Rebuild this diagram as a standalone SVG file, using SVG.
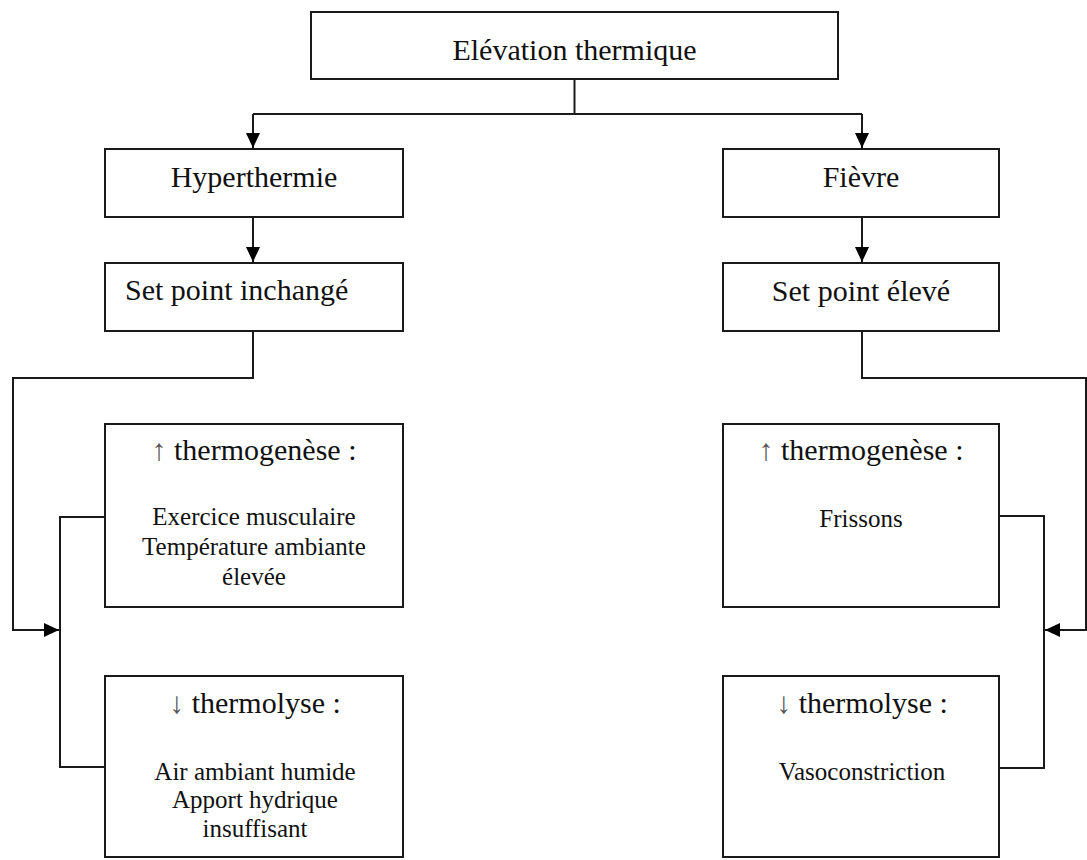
<svg xmlns="http://www.w3.org/2000/svg" width="1087" height="860" viewBox="0 0 1087 860">
<style>
.box{fill:#fff;stroke:#1a1a1a;stroke-width:2}
.ln{fill:none;stroke:#1a1a1a;stroke-width:2}
</style>
<defs>
<marker id="ah" markerUnits="userSpaceOnUse" markerWidth="16" markerHeight="16" refX="15" refY="8" orient="auto">
<path d="M0,1 L15,8 L0,15 Z" fill="#000"/>
</marker>
</defs>
<rect width="1087" height="860" fill="#fff"/>
<g id="connectors">
<path class="ln" d="M574.5 79 V114"/>
<path class="ln" d="M253 114 H862"/>
<path class="ln" d="M253 114 V148" marker-end="url(#ah)"/>
<path class="ln" d="M862 114 V148" marker-end="url(#ah)"/>
<path class="ln" d="M253 217 V262" marker-end="url(#ah)"/>
<path class="ln" d="M862 217 V262" marker-end="url(#ah)"/>
<path class="ln" d="M253 331 V378 H13 V630 H59" marker-end="url(#ah)"/>
<path class="ln" d="M105 517 H60 V767 H105"/>
<path class="ln" d="M862 331 V378 H1086 V630 H1045" marker-end="url(#ah)"/>
<path class="ln" d="M999 516 H1044 V768 H999"/>
</g>
<g id="elevation">
<rect class="box" x="311" y="12" width="527" height="67"/>
<text x="574.5" y="60" font-family="Liberation Serif" font-size="30" text-anchor="middle" fill="#111">Elévation thermique</text>
</g>
<g id="hyperthermie">
<rect class="box" x="105" y="149" width="298" height="68"/>
<text x="254" y="187" font-family="Liberation Serif" font-size="30" text-anchor="middle" fill="#111">Hyperthermie</text>
</g>
<g id="fievre">
<rect class="box" x="723" y="149" width="276" height="68"/>
<text x="861" y="187" font-family="Liberation Serif" font-size="30" text-anchor="middle" fill="#111">Fièvre</text>
</g>
<g id="setpoint-inchange">
<rect class="box" x="105" y="263" width="298" height="68"/>
<text x="125" y="300" font-family="Liberation Serif" font-size="30" fill="#111">Set point inchangé</text>
</g>
<g id="setpoint-eleve">
<rect class="box" x="723" y="263" width="276" height="68"/>
<text x="861" y="301" font-family="Liberation Serif" font-size="30" text-anchor="middle" fill="#111">Set point élevé</text>
</g>
<g id="thermogenese-hyper">
<rect class="box" x="105" y="424" width="298" height="183"/>
<text x="254" y="460" font-family="Liberation Serif" font-size="30" text-anchor="middle" fill="#111"><tspan fill="#555">↑</tspan> thermogenèse :</text>
<text x="254" y="525" font-family="Liberation Serif" font-size="25" text-anchor="middle" fill="#111">Exercice musculaire</text>
<text x="254" y="555" font-family="Liberation Serif" font-size="25" text-anchor="middle" fill="#111">Température ambiante</text>
<text x="254" y="585" font-family="Liberation Serif" font-size="25" text-anchor="middle" fill="#111">élevée</text>
</g>
<g id="thermogenese-fievre">
<rect class="box" x="723" y="424" width="276" height="183"/>
<text x="861" y="460" font-family="Liberation Serif" font-size="30" text-anchor="middle" fill="#111"><tspan fill="#555">↑</tspan> thermogenèse :</text>
<text x="861" y="527" font-family="Liberation Serif" font-size="25" text-anchor="middle" fill="#111">Frissons</text>
</g>
<g id="thermolyse-hyper">
<rect class="box" x="105" y="676" width="298" height="181"/>
<text x="255" y="713" font-family="Liberation Serif" font-size="30" text-anchor="middle" fill="#111"><tspan fill="#555">↓</tspan> thermolyse :</text>
<text x="255" y="780" font-family="Liberation Serif" font-size="25" text-anchor="middle" fill="#111">Air ambiant humide</text>
<text x="255" y="808" font-family="Liberation Serif" font-size="25" text-anchor="middle" fill="#111">Apport hydrique</text>
<text x="255" y="837" font-family="Liberation Serif" font-size="25" text-anchor="middle" fill="#111">insuffisant</text>
</g>
<g id="thermolyse-fievre">
<rect class="box" x="723" y="676" width="276" height="181"/>
<text x="862" y="713" font-family="Liberation Serif" font-size="30" text-anchor="middle" fill="#111"><tspan fill="#555">↓</tspan> thermolyse :</text>
<text x="862" y="780" font-family="Liberation Serif" font-size="25" text-anchor="middle" fill="#111">Vasoconstriction</text>
</g>
</svg>
